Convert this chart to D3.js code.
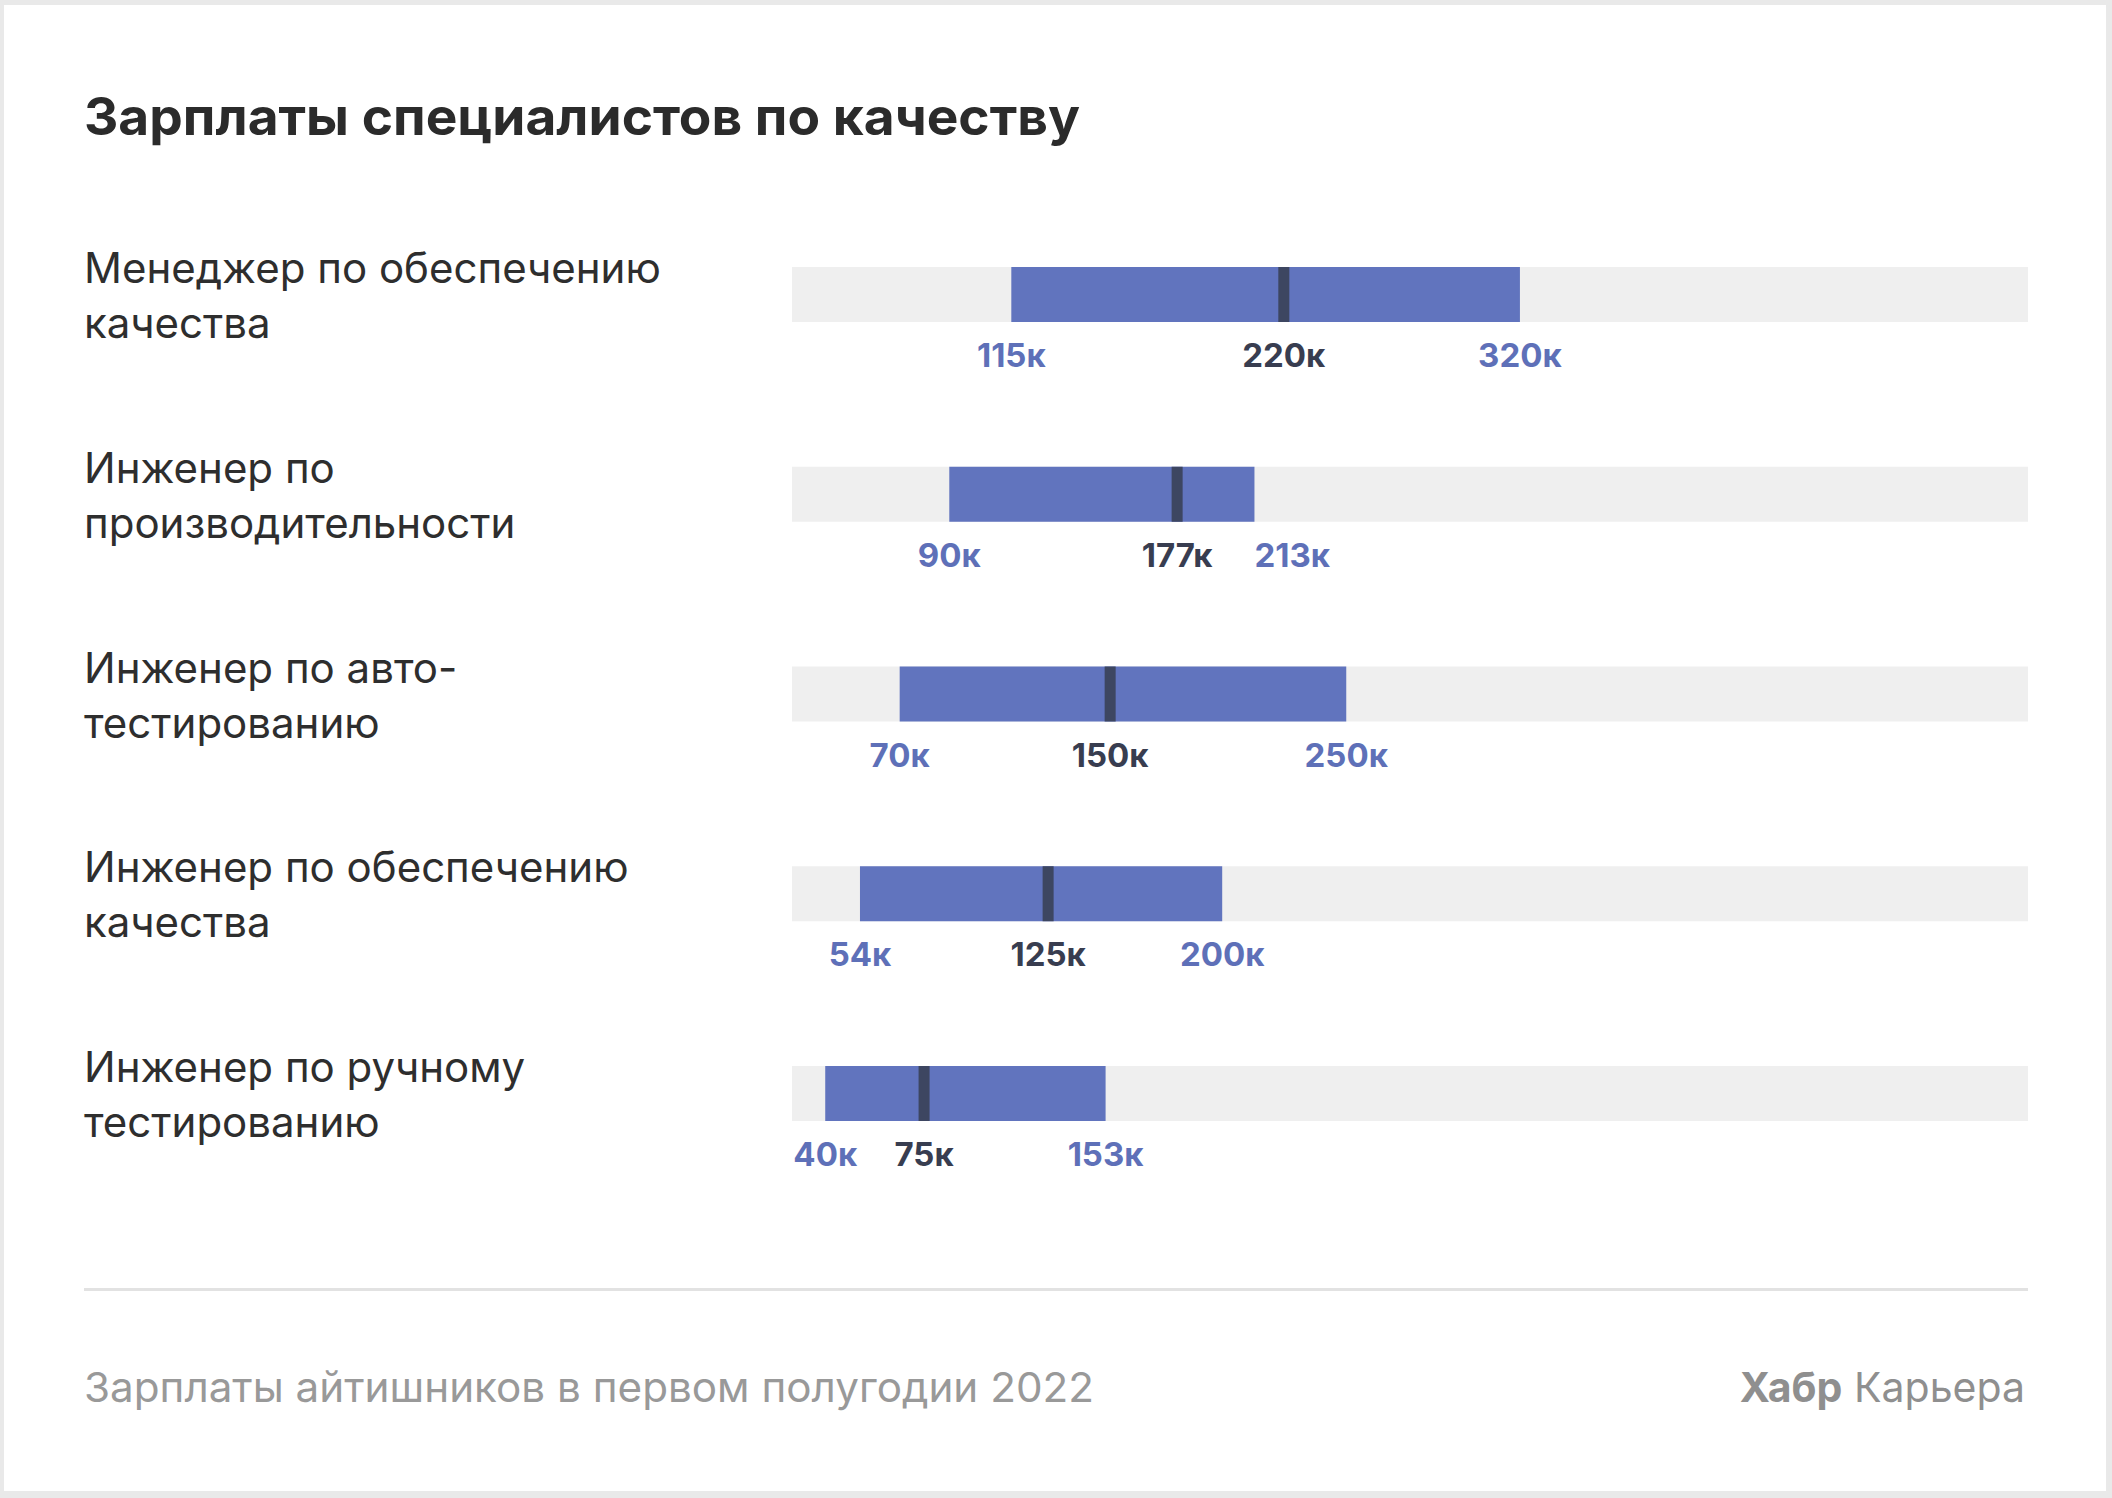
<!DOCTYPE html>
<html>
<head>
<meta charset="utf-8">
<script src="https://cdn.jsdelivr.net/npm/d3@7"></script>
<style>
  html, body { margin: 0; padding: 0; background: #e9e9e9; }
  svg { display: block; }
  text { font-family: Inter, "Noto Sans", sans-serif; }
</style>
</head>
<body>
<svg id="chart" width="2112" height="1498"></svg>
<script>
// ---- data ----
const categories = [
  "Менеджер по обеспечению\nкачества",
  "Инженер по\nпроизводительности",
  "Инженер по авто-\nтестированию",
  "Инженер по обеспечению\nкачества",
  "Инженер по ручному\nтестированию"
];
const lowValues    = [115, 90, 70, 54, 40];
const medianValues = [220, 177, 150, 125, 75];
const highValues   = [320, 213, 250, 200, 153];
const valueSuffix = "к";
const titleText = "Зарплаты специалистов по качеству";
const footerText = "Зарплаты айтишников в первом полугодии 2022";
const brandBold = "Хабр";
const brandRegular = "Карьера";

// ---- layout ----
const W = 2112, H = 1498;
const svg = d3.select("#chart");

const colors = {
  bg: "#e9e9e9", card: "#ffffff", track: "#efefef", bar: "#6174be",
  median: "#3d4661", lowHigh: "#5e70b8", medLabel: "#383d50",
  label: "#2e2e2e", title: "#2b2b2b", footer: "#999999", rule: "#e2e2e2"
};

svg.append("rect").attr("x", 0).attr("y", 0).attr("width", W).attr("height", H).attr("fill", colors.bg);
svg.append("rect").attr("x", 4).attr("y", 5).attr("width", 2102).attr("height", 1486).attr("fill", colors.card);

// title
svg.append("text")
  .attr("x", 84).attr("y", 135)
  .attr("font-size", 52).attr("font-weight", 700)
  .attr("fill", colors.title)
  .attr("textLength", 996).attr("lengthAdjust", "spacingAndGlyphs")
  .text(titleText);

// scales
const x = d3.scaleLinear().domain([0, 500]).range([726, 1966.5]);
const y = d3.scaleBand().domain(categories).range([267, 267 + 5 * 199.75]).paddingInner(0);
const barH = 55;
const trackX0 = 792, trackX1 = 2028;
const medW = 11, medShift = 12;

const rows = categories.map((c, i) => ({
  cat: c, lo: lowValues[i], med: medianValues[i], hi: highValues[i]
}));

const g = svg.append("g");
const row = g.selectAll("g.row").data(rows).join("g").attr("class", "row")
  .attr("transform", d => `translate(0,${y(d.cat)})`);

// category labels (two lines)
row.append("text")
  .attr("x", 84).attr("y", 16)
  .attr("font-size", 42).attr("font-weight", 400)
  .attr("fill", colors.label)
  .selectAll("tspan").data(d => d.cat.split("\n")).join("tspan")
  .attr("x", 84).attr("dy", (d, i) => i === 0 ? 0 : 55)
  .text(d => d);

// track
row.append("rect")
  .attr("x", trackX0).attr("y", 0)
  .attr("width", trackX1 - trackX0).attr("height", barH)
  .attr("fill", colors.track);

// range bar
row.append("rect")
  .attr("x", d => x(d.lo)).attr("y", 0)
  .attr("width", d => x(d.hi) - x(d.lo)).attr("height", barH)
  .attr("fill", colors.bar);

// median marker
row.append("rect")
  .attr("x", d => x(d.med) + medShift - medW / 2).attr("y", 0)
  .attr("width", medW).attr("height", barH)
  .attr("fill", colors.median);

// value labels
const labelY = 100;
const fs = 33;
row.each(function(d) {
  const r = d3.select(this);
  const mk = (val, cx, color) => r.append("text")
    .attr("x", cx).attr("y", labelY)
    .attr("text-anchor", "middle")
    .attr("font-size", fs).attr("font-weight", 700)
    .attr("fill", color)
    .text(val + valueSuffix);
  const lo = mk(d.lo, x(d.lo), colors.lowHigh);
  const med = mk(d.med, x(d.med) + medShift, colors.medLabel);
  const hi = mk(d.hi, x(d.hi), colors.lowHigh);
  // keep low label inside the track
  const lb = lo.node().getBBox();
  if (lb.x < trackX0) lo.attr("text-anchor", "start").attr("x", trackX0);
  // avoid overlap of median and high labels
  const mb = med.node().getBBox(), hb = hi.node().getBBox();
  if (hb.x < mb.x + mb.width + 20) hi.attr("text-anchor", "start").attr("x", x(d.hi));
});

// footer rule
svg.append("rect")
  .attr("x", 84).attr("y", 1288)
  .attr("width", 2028 - 84).attr("height", 3)
  .attr("fill", colors.rule);

// footer text
svg.append("text")
  .attr("x", 84).attr("y", 1402)
  .attr("font-size", 41).attr("font-weight", 400)
  .attr("fill", colors.footer)
  .attr("textLength", 1010).attr("lengthAdjust", "spacingAndGlyphs")
  .text(footerText);

const brand = svg.append("text")
  .attr("x", 2025).attr("y", 1402)
  .attr("text-anchor", "end")
  .attr("font-size", 41)
  .attr("fill", "#8f8f8f");
brand.append("tspan").attr("font-weight", 700).text(brandBold);
brand.append("tspan").attr("font-weight", 400).text(" " + brandRegular);
</script>
</body>
</html>
